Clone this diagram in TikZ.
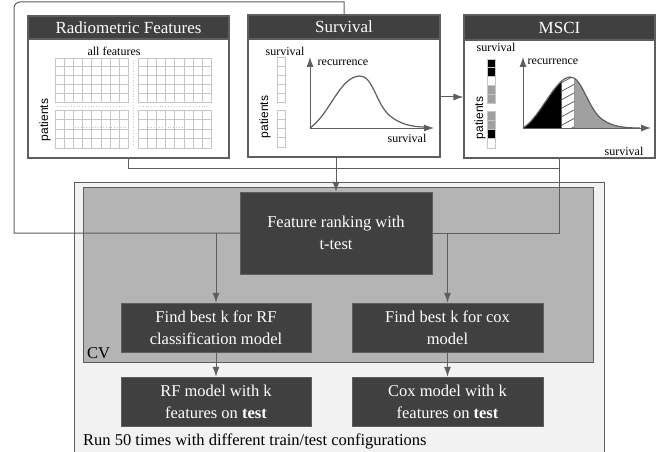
\documentclass[tikz,border=0pt]{standalone}
\usepackage{fontspec}
\setmainfont{Liberation Serif}
\setsansfont{Liberation Sans}
\usetikzlibrary{arrows.meta}

\definecolor{darkbox}{HTML}{404040}
\definecolor{cvgray}{HTML}{B4B4B4}
\definecolor{runbg}{HTML}{F2F2F2}
\definecolor{linegray}{HTML}{5E5E5E}
\definecolor{cellgray}{HTML}{C6C6C6}
\definecolor{midgray}{HTML}{A0A0A0}

\tikzset{
  panel/.style={draw=linegray, fill=white, line width=1.2pt, inner sep=0pt},
  titlebar/.style={draw=linegray, fill=darkbox, text=white, line width=1.2pt, inner sep=0pt, font=\fontsize{17}{20}\selectfont},
  stepbox/.style={draw=linegray, fill=darkbox, text=white, align=center, inner sep=0pt, font=\fontsize{16.5}{22}\selectfont},
  wire/.style={draw=linegray, line width=1pt},
  small/.style={font=\fontsize{12}{14}\selectfont, inner sep=0pt},
  pat/.style={font=\sffamily\fontsize{12}{14}\selectfont, rotate=90, inner sep=0pt},
  cell/.style={draw=cellgray, line width=0.8pt},
}

% one block of the feature table: x, y, rows, row height
\newcommand{\featblock}[4]{%
  \foreach \col in {0,...,8} \draw[cell] ({#1+\col*9.2},#2) -- ({#1+\col*9.2},{#2+#3*#4});
  \foreach \row in {0,...,#3} \draw[cell] (#1,{#2+\row*#4}) -- ({#1+73.6},{#2+\row*#4});
}
\newcommand{\msciprofile}{(523,128) .. controls (540,118) and (555,78) .. (570,77) .. controls (582,76) and (588,110) .. (603,120) .. controls (612,126) and (622,128) .. (640,128)}

\begin{document}
\begin{tikzpicture}[x=1pt,y=-1pt,>={Latex[length=10pt,width=7pt]}]
\useasboundingbox (0,0) rectangle (659,452);

% run and CV boxes
\node[draw=linegray, fill=runbg, line width=1pt, inner sep=0pt, minimum width=530pt, minimum height=290pt, anchor=north west] (run) at (74,182) {};
\node[draw=linegray, fill=cvgray, line width=1pt, inner sep=0pt, minimum width=510pt, minimum height=175pt, anchor=north west] (cv) at (83,187) {};
\node[anchor=south west, inner sep=0pt, font=\fontsize{16.5}{20}\selectfont] (cvlabel) at (87,359) {CV};
\node[anchor=west, inner sep=0pt, font=\fontsize{16.5}{20}\selectfont] (runlabel) at (83,441) {Run 50 times with different train/test configurations};

% input panels
\node[panel, minimum width=201pt, minimum height=142pt] (radio) at (128.5,87) {};
\node[titlebar, minimum width=201pt, minimum height=23pt, anchor=north] (radiotitle) at (radio.north) {Radiometric Features};
\node[panel, minimum width=192pt, minimum height=142pt] (surv) at (344,86) {};
\node[titlebar, minimum width=192pt, minimum height=24pt, anchor=north] (survtitle) at (surv.north) {Survival};
\node[panel, minimum width=191pt, minimum height=143pt] (msci) at (559.5,86.5) {};
\node[titlebar, minimum width=191pt, minimum height=25pt, anchor=north] (mscititle) at (msci.north) {MSCI};

% feature table
\node[small] (allfeat) at (114,51) {all features};
\node[pat] (radiopat) at (45,120) {patients};
\featblock{55}{58}{5}{8.8}
\featblock{138}{58}{5}{8.8}
\featblock{55}{110}{4}{9.5}
\featblock{138}{110}{4}{9.5}
\draw[cell, dotted] (133,60) -- (133,146);
\draw[cell, dotted] (57,106) -- (127,106);
\draw[cell, dotted] (140,106) -- (210,106);
\draw[cell, dotted] (75,127) -- (127,127);
\draw[cell, dotted] (148,127) -- (187,127);

% survival plot
\node[small] (survtop) at (285,51) {survival};
\node[pat] (survpat) at (265,117) {patients};
\foreach \k in {0,...,4} \draw[cell] (277,{57+\k*9}) rectangle ++(8,9);
\foreach \k in {0,...,3} \draw[cell] (277,{110+\k*9.25}) rectangle ++(8,9.25);
\coordinate (survorigin) at (310,128);
\draw[wire,->] (survorigin) -- (310,57);
\draw[wire,->] (survorigin) -- (434,128);
\draw[linegray, line width=1.2pt] (survorigin) .. controls (330,114) and (340,76) .. (360,76) .. controls (373,76) and (376,104) .. (390,116) .. controls (400,124) and (412,127) .. (425,127);
\node[small] (survrec) at (343,63) {recurrence};
\node[small] (survaxis) at (407,138) {survival};

% MSCI plot
\node[small] (mscitop) at (496,47) {survival};
\node[pat] (mscipat) at (480,118) {patients};
\foreach \k/\shade in {0/black,1/black,2/white,3/midgray,4/midgray}
  \draw[cell, fill=\shade] (487,{59+\k*8.8}) rectangle ++(8,8.8);
\foreach \k/\shade in {0/midgray,1/midgray,2/black,3/white}
  \draw[cell, fill=\shade] (487,{111+\k*9.25}) rectangle ++(8,9.25);
\begin{scope}
  \clip (523,50) rectangle (561,129);
  \fill[black] \msciprofile -- cycle;
\end{scope}
\begin{scope}
  \clip (574,50) rectangle (645,129);
  \fill[midgray] \msciprofile -- cycle;
\end{scope}
\begin{scope}
  \clip (561,50) rectangle (574,129);
  \clip \msciprofile -- cycle;
  \foreach \h in {0,...,7} \draw[linegray, line width=0.8pt] (561,{134-\h*8.5}) -- ++(13,-7);
  \draw[linegray, line width=1pt] (561,50) -- (561,129) (574,50) -- (574,129);
\end{scope}
\draw[linegray, line width=1.2pt] \msciprofile;
\coordinate (mscorigin) at (523,128);
\draw[wire,->] (mscorigin) -- (523,57);
\draw[wire,->] (mscorigin) -- (651,128);
\node[small] (mscirec) at (553,62) {recurrence};
\node[small] (msciaxis) at (624,151) {survival};

% steps
\node[stepbox, minimum width=192pt, minimum height=82pt] (rank) at (336,233) {Feature ranking with\\t-test};
\node[stepbox, minimum width=190pt, minimum height=49pt] (findrf) at (216,327.5) {Find best k for RF\\classification model};
\node[stepbox, minimum width=191pt, minimum height=49pt] (findcox) at (447.5,327.5) {Find best k for cox\\model};
\node[stepbox, minimum width=190pt, minimum height=49pt] (rfmodel) at (216,401.5) {RF model with k\\features on \textbf{test}};
\node[stepbox, minimum width=191pt, minimum height=49pt] (coxmodel) at (447.5,401.5) {Cox model with k\\features on \textbf{test}};

% connectors
\coordinate (loopx) at (14,2);
\coordinate (bus) at (0,168);
\draw[wire] (surv.north) -- (surv.north |- loopx) [rounded corners=6pt] -- (loopx) [sharp corners] -- (loopx |- rank.west) -- (rank.west);
\draw[wire] (radio.south) |- (bus -| msci.south);
\draw[wire] (msci.south) |- (rank.east);
\draw[wire,->] (rank.north |- surv.south) -- (rank.north);
\draw[wire,->] ([yshift=-11pt]surv.east) -- ([yshift=-11pt]surv.east -| msci.west);
\draw[wire,->] (findrf.north |- rank.west) -- (findrf.north);
\draw[wire,->] (findcox.north |- rank.east) -- (findcox.north);
\draw[wire,->] (findrf) -- (rfmodel);
\draw[wire,->] (findcox) -- (coxmodel);

\end{tikzpicture}
\end{document}
